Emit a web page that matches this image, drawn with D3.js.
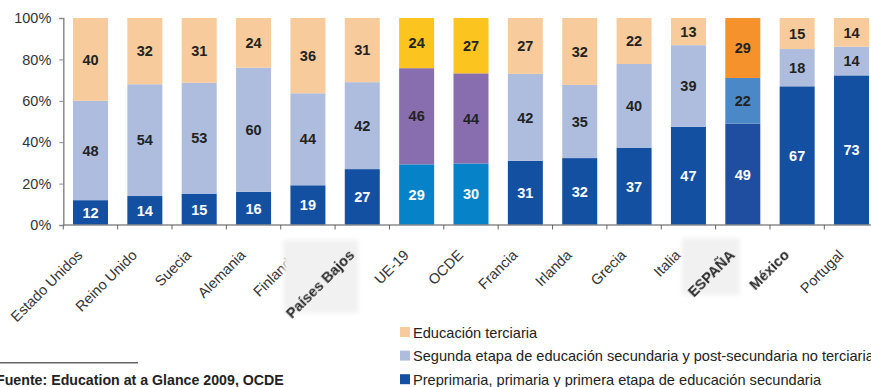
<!DOCTYPE html>
<html>
<head>
<meta charset="utf-8">
<script src="https://cdn.jsdelivr.net/npm/d3@7"></script>
<style>
  html, body { margin: 0; padding: 0; background: #fff; }
  svg { display: block; font-family: "Liberation Sans", Arial, sans-serif; }
</style>
</head>
<body>
<svg id="chart" width="871" height="387"></svg>
<script>
// Población 25-64 años por nivel de estudios (%)
const categories = ["Estado Unidos", "Reino Unido", "Suecia", "Alemania", "Finlandia",
  "Países Bajos", "UE-19", "OCDE", "Francia", "Irlanda", "Grecia", "Italia",
  "ESPAÑA", "México", "Portugal"];
const primaria   = [12, 14, 15, 16, 19, 27, 29, 30, 31, 32, 37, 47, 49, 67, 73];
const secundaria = [48, 54, 53, 60, 44, 42, 46, 44, 42, 35, 40, 39, 22, 18, 14];
const terciaria  = [40, 32, 31, 24, 36, 31, 24, 27, 27, 32, 22, 13, 29, 15, 14];
const yTicks = [0, 0.2, 0.4, 0.6, 0.8, 1];
const seriesNames = [
  "Educación terciaria",
  "Segunda etapa de educación secundaria y post-secundaria no terciaria",
  "Preprimaria, primaria y primera etapa de educación secundaria"
];
const sourceText = "Fuente: Education at a Glance 2009, OCDE";

// colour sets: default countries, averages, Spain
const palettes = {
  base:    { primaria: "#1450a2", secundaria: "#aebdde", terciaria: "#f7cb9b" },
  media:   { primaria: "#0683c8", secundaria: "#886daf", terciaria: "#fbc41e" },
  espana:  { primaria: "#1f4d9f", secundaria: "#4a88c7", terciaria: "#f5922b" }
};
const paletteFor = c => (c === "UE-19" || c === "OCDE") ? palettes.media
                      : (c === "ESPAÑA" ? palettes.espana : palettes.base);
const boldLabels = new Set(["Países Bajos", "ESPAÑA", "México"]);
// shaded boxes behind some labels: offset from band centre, size
const labelBoxes = {
  "Países Bajos": { dx: -79, y: 240, w: 75, h: 73 },
  "ESPAÑA":       { dx: -61, y: 238, w: 58, h: 57 }
};

const rows = categories.map((c, i) => ({
  cat: c, primaria: primaria[i], secundaria: secundaria[i], terciaria: terciaria[i]
}));
const keys = ["primaria", "secundaria", "terciaria"];
const stacked = d3.stack().keys(keys).offset(d3.stackOffsetExpand)(rows);

const svg = d3.select("#chart");
const axisX0 = 63.3, step = 54.36;
const x = d3.scaleBand().domain(categories)
  .range([axisX0, axisX0 + step * categories.length])
  .paddingInner(0.356).paddingOuter(0.178);
const y = d3.scaleLinear().domain([0, 1]).range([225, 18]);

const defs = svg.append("defs");
defs.append("filter").attr("id", "soft").attr("x", "-20%").attr("y", "-20%")
  .attr("width", "140%").attr("height", "140%")
  .append("feGaussianBlur").attr("stdDeviation", 2);
defs.append("filter").attr("id", "softText")
  .append("feGaussianBlur").attr("stdDeviation", 0.45);

// bars
stacked.forEach(layer => {
  const key = layer.key;
  svg.append("g").selectAll("rect").data(layer).join("rect")
    .attr("x", d => x(d.data.cat))
    .attr("width", x.bandwidth())
    .attr("y", d => y(d[1]))
    .attr("height", d => y(d[0]) - y(d[1]))
    .attr("fill", d => paletteFor(d.data.cat)[key]);
});

// value labels
stacked.forEach(layer => {
  const key = layer.key;
  svg.append("g").selectAll("text").data(layer).join("text")
    .attr("x", d => x(d.data.cat) + x.bandwidth() / 2)
    .attr("y", d => (y(d[0]) + y(d[1])) / 2)
    .attr("dy", "0.36em")
    .attr("text-anchor", "middle")
    .attr("font-size", 14.5)
    .attr("font-weight", "bold")
    .attr("fill", key === "primaria" ? "#ffffff" : "#222222")
    .text(d => d.data[key]);
});

// y axis
const yAxis = svg.append("g").attr("transform", `translate(${axisX0},0)`)
  .call(d3.axisLeft(y).tickValues(yTicks).tickFormat(d3.format(".0%")).tickSize(4).tickPadding(8));
yAxis.select(".domain").attr("stroke", "#8a8a8a").attr("stroke-width", 1.5);
yAxis.selectAll(".tick line").attr("stroke", "#8a8a8a");
yAxis.selectAll(".tick text").attr("font-size", 14.5).attr("fill", "#333")
  .attr("font-family", "'Liberation Sans', Arial, sans-serif");

// x axis line with separators between categories
svg.append("line").attr("x1", axisX0).attr("x2", 871).attr("y1", 225).attr("y2", 225)
  .attr("stroke", "#8a8a8a").attr("stroke-width", 1.5);
svg.append("g").selectAll("line").data(d3.range(categories.length + 1)).join("line")
  .attr("x1", k => axisX0 + k * step).attr("x2", k => axisX0 + k * step)
  .attr("y1", 225).attr("y2", 229.5)
  .attr("stroke", "#666").attr("stroke-width", 1);

// category labels
const labelG = svg.append("g");
categories.forEach(c => {
  const cx = x(c) + x.bandwidth() / 2;
  const box = labelBoxes[c];
  if (box) {
    labelG.append("rect")
      .attr("x", cx + box.dx).attr("y", box.y).attr("width", box.w).attr("height", box.h)
      .attr("fill", "#f1f1f1").attr("filter", "url(#soft)");
  }
  labelG.append("text")
    .attr("transform", `translate(${cx - 7},${256}) rotate(-45)`)
    .attr("text-anchor", "end")
    .attr("font-size", 14.5)
    .attr("font-weight", boldLabels.has(c) ? "bold" : "normal")
    .attr("fill", boldLabels.has(c) ? "#2a2a2a" : "#333")
    .attr("filter", boldLabels.has(c) ? "url(#softText)" : null)
    .text(c);
});

// legend
const legendColors = [palettes.base.terciaria, palettes.base.secundaria, palettes.base.primaria];
const legend = svg.append("g");
seriesNames.forEach((name, i) => {
  const ly = 327 + i * 23.6;
  legend.append("rect").attr("x", 400).attr("y", ly).attr("width", 10).attr("height", 10)
    .attr("fill", legendColors[i]);
  legend.append("text").attr("x", 413).attr("y", ly + 10.5)
    .attr("font-size", 14.6).attr("fill", "#222").text(name);
});

// source note
svg.append("line").attr("x1", 0).attr("x2", 138).attr("y1", 362.7).attr("y2", 362.7)
  .attr("stroke", "#666").attr("stroke-width", 1.5);
svg.append("text").attr("x", -4).attr("y", 385)
  .attr("font-size", 14.2).attr("font-weight", "bold").attr("fill", "#222")
  .text(sourceText);
</script>
</body>
</html>
